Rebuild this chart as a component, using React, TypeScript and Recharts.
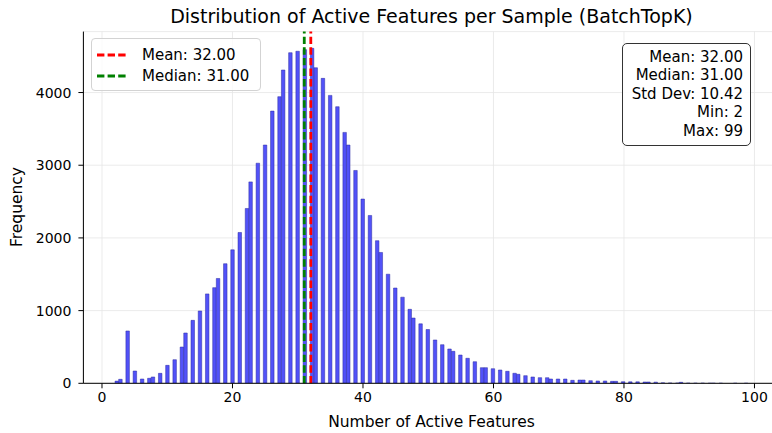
// Histogram of active features per sample (BatchTopK), with mean / median markers.

import { ComposedChart, Bar, XAxis, YAxis, CartesianGrid, ReferenceLine } from 'recharts';

const MIN_FEATURES = 2;
const MAX_FEATURES = 99;

// sample counts for 2, 3, 4, ... 99 active features
const frequencies = [
  30, 55, 720, 169, 59, 69, 87, 137, 247, 325,
  499, 692, 866, 995, 1230, 1316, 1442, 1645, 1836, 2075,
  2405, 2771, 3028, 3278, 3745, 3943, 4310, 4548, 4568, 4590,
  4608, 4341, 4195, 3961, 3805, 3452, 3278, 2928, 2535, 2309,
  1962, 1800, 1501, 1311, 1185, 1018, 898, 818, 740, 596,
  531, 472, 440, 389, 344, 297, 215, 215, 201, 183,
  165, 138, 124, 105, 87, 78, 77, 59, 59, 59,
  41, 45, 45, 36, 32, 32, 27, 27, 22, 20,
  20, 18, 18, 16, 6, 5, 4, 14, 3, 2,
  2, 1, 1, 1, 0, 1, 0, 1,
];

const xTicks = [0, 20, 40, 60, 80, 100];
const yTicks = [0, 1000, 2000, 3000, 4000];

const meanValue = 32.0;
const medianValue = 31.0;

const legendItems = [
  { label: 'Mean: 32.00', color: 'red' },
  { label: 'Median: 31.00', color: 'green' },
];

const statLines = ['Mean: 32.00', 'Median: 31.00', 'Std Dev: 10.42', 'Min: 2', 'Max: 99'];

// numpy "auto" bins over [min, max] -> each integer lands in one narrow bin
const BIN_COUNT = 175;
const binWidth = (MAX_FEATURES - MIN_FEATURES) / BIN_COUNT;
const data = frequencies.map((count, i) => {
  const k = MIN_FEATURES + i;
  const idx = Math.min(Math.floor((k - MIN_FEATURES) / binWidth), BIN_COUNT - 1);
  return { x: MIN_FEATURES + (idx + 0.5) * binWidth, count };
});

const span = MAX_FEATURES - MIN_FEATURES;
const xDomain = [MIN_FEATURES - 0.05 * span, MAX_FEATURES + 0.05 * span];
const yDomain = [0, Math.max(...frequencies) * 1.05];

const FONT = '"DejaVu Sans", sans-serif';
const PLOT_LEFT = 83.4;
const PLOT_RIGHT = 779.6;
const PLOT_TOP = 31.6;
const PLOT_BOTTOM = 383.3;
const CHART_W = 800;
const CHART_H = 433;

const tickStyle = { fill: '#000', fontSize: 14, fontFamily: FONT };

export default function App() {
  return (
    <div
      style={{
        position: 'fixed',
        left: 0,
        top: 0,
        width: 772,
        height: 433,
        overflow: 'hidden',
        background: '#fff',
        fontFamily: FONT,
        color: '#000',
      }}
    >
      <ComposedChart
        width={CHART_W}
        height={CHART_H}
        data={data}
        margin={{
          top: PLOT_TOP,
          right: CHART_W - PLOT_RIGHT,
          bottom: CHART_H - PLOT_BOTTOM - 30,
          left: PLOT_LEFT - 60,
        }}
      >
        <CartesianGrid stroke="#e6e6e6" strokeWidth={0.8} />
        <XAxis
          dataKey="x"
          type="number"
          domain={xDomain}
          ticks={xTicks}
          allowDataOverflow
          height={30}
          tick={tickStyle}
          tickSize={5}
          tickMargin={4}
          tickLine={{ stroke: '#000' }}
          axisLine={{ stroke: '#000', strokeWidth: 1 }}
        />
        <XAxis
          xAxisId="top"
          orientation="top"
          type="number"
          domain={xDomain}
          ticks={[]}
          tick={false}
          tickLine={false}
          height={0}
          axisLine={{ stroke: '#000', strokeWidth: 1 }}
        />
        <YAxis
          type="number"
          domain={yDomain}
          ticks={yTicks}
          allowDataOverflow
          width={60}
          tick={tickStyle}
          tickSize={5}
          tickMargin={7}
          tickLine={{ stroke: '#000' }}
          axisLine={{ stroke: '#000', strokeWidth: 1 }}
        />
        <Bar
          dataKey="count"
          barSize={3.5}
          fill="#5252f8"
          stroke="#2a2aa0"
          strokeWidth={0.5}
          isAnimationActive={false}
        />
        <ReferenceLine x={meanValue} stroke="red" strokeWidth={2.8} strokeDasharray="7.4 3.2" />
        <ReferenceLine x={medianValue} stroke="green" strokeWidth={2.8} strokeDasharray="7.4 3.2" />
      </ComposedChart>

      {/* title */}
      <div
        style={{
          position: 'absolute',
          left: PLOT_LEFT,
          width: PLOT_RIGHT - PLOT_LEFT,
          top: 5,
          textAlign: 'center',
          fontSize: 19,
          lineHeight: '22px',
          whiteSpace: 'nowrap',
        }}
      >
        Distribution of Active Features per Sample (BatchTopK)
      </div>

      {/* x label */}
      <div
        style={{
          position: 'absolute',
          left: PLOT_LEFT,
          width: PLOT_RIGHT - PLOT_LEFT,
          top: 413,
          textAlign: 'center',
          fontSize: 15.5,
          lineHeight: '19px',
        }}
      >
        Number of Active Features
      </div>

      {/* y label */}
      <div
        style={{
          position: 'absolute',
          left: 17,
          top: (PLOT_TOP + PLOT_BOTTOM) / 2,
          transform: 'translate(-50%, -50%) rotate(-90deg)',
          fontSize: 15.5,
          lineHeight: '19px',
          whiteSpace: 'nowrap',
        }}
      >
        Frequency
      </div>

      {/* legend */}
      <div
        style={{
          position: 'absolute',
          left: 91,
          top: 38,
          width: 170,
          height: 53,
          boxSizing: 'border-box',
          border: '1px solid #d3d3d3',
          borderRadius: 4,
          background: 'rgba(255,255,255,0.8)',
          fontSize: 15,
        }}
      >
        {legendItems.map((item, i) => (
          <div
            key={item.label}
            style={{ position: 'absolute', left: 5, top: 6 + i * 21, height: 20, display: 'flex', alignItems: 'center' }}
          >
            <svg width={30} height={6} style={{ display: 'block' }}>
              <line x1={0} y1={3} x2={30} y2={3} stroke={item.color} strokeWidth={3} strokeDasharray="7.4 3.2" />
            </svg>
            <span style={{ marginLeft: 15, whiteSpace: 'nowrap' }}>{item.label}</span>
          </div>
        ))}
      </div>

      {/* stats box */}
      <div
        style={{
          position: 'absolute',
          left: 622,
          top: 43,
          width: 129,
          height: 103,
          boxSizing: 'border-box',
          border: '1.3px solid #333',
          borderRadius: 5,
          background: 'rgba(255,255,255,0.9)',
          fontSize: 15,
          lineHeight: '18.4px',
          textAlign: 'right',
          paddingRight: 7,
          paddingTop: 4,
        }}
      >
        {statLines.map((line) => (
          <div key={line} style={{ whiteSpace: 'nowrap' }}>
            {line}
          </div>
        ))}
      </div>
    </div>
  );
}
